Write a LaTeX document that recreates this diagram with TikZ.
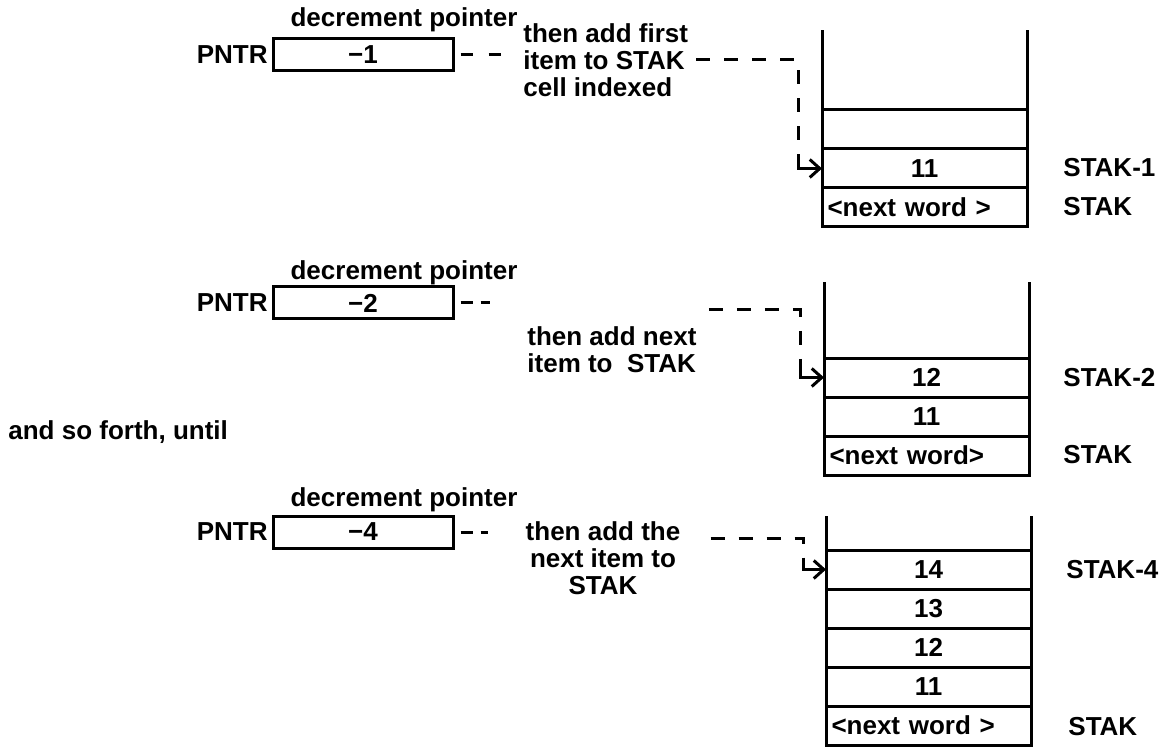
\documentclass[tikz,border=0pt]{standalone}
\usepackage{fontspec}
\setmainfont{Liberation Sans}
\usetikzlibrary{arrows.meta}

\begin{document}
\begin{tikzpicture}[x=0.5pt, y=-0.5pt, font=\bfseries\fontsize{13}{13.5}\selectfont]
    % Define styles
    \tikzstyle{cell} = [rectangle, minimum width=102.5pt, minimum height=19.5pt, draw=black, line width=1.5pt, inner sep=0pt, outer sep=0pt]
    \tikzstyle{wordcell} = [cell, text width=97pt, align=left]
    \tikzstyle{pntrbox} = [rectangle, minimum width=90pt, minimum height=16pt, draw=black, line width=1.5pt, inner sep=0pt]
    \tikzstyle{lbl} = [inner sep=0pt]
    \tikzstyle{note} = [inner sep=0pt, align=left]
    \tikzstyle{wall} = [line width=1.5pt]
    \tikzstyle{shortdash} = [line width=1.5pt, dash pattern=on 6pt off 4pt, shorten <=3pt]
    \tikzstyle{dashline} = [line width=1.5pt, dash pattern=on 7pt off 7pt]
    \tikzstyle{pointer} = [line width=1.5pt, -{Straight Barb[length=5pt, width=9pt]}]

    \useasboundingbox (0,0) rectangle (1176,748);

    % First push
    \node[lbl] (dec1) at (404, 20) {decrement pointer};
    \node[lbl, anchor=east] (pntr1) at (268, 55) {PNTR};
    \node[pntrbox] (box1) at (363, 55) {−1};
    \node[note, anchor=west] (note1) at (523, 60) {then add first\\item to STAK\\cell indexed};

    \node[cell] (s1e) at (924.5, 129.5) {};
    \node[cell] (s1a) at (924.5, 168.5) {11};
    \node[wordcell] (s1w) at (924.5, 207.5) {<next word >};
    \draw[wall] (s1e.north west) -- ++(0,-80);
    \draw[wall] (s1e.north east) -- ++(0,-80);
    \node[lbl, anchor=west] (k1a) at (1063, 168) {STAK-1};
    \node[lbl, anchor=west] (k1w) at (1063, 207) {STAK};

    \coordinate (bend1) at (798, 60);
    \coordinate (drop1) at (798, 160);
    \draw[shortdash, dash pattern=on 6pt off 8pt, shorten >=10.5pt] (box1) -- (note1.west |- box1);
    \draw[dashline] ([xshift=4pt]note1.east) -- (bend1) -- (drop1);
    \draw[pointer] (drop1) |- (s1a.west);

    % Second push
    \node[lbl] (dec2) at (404, 273) {decrement pointer};
    \node[lbl, anchor=east] (pntr2) at (268, 303) {PNTR};
    \node[pntrbox] (box2) at (363, 303) {−2};
    \node[note, anchor=west] (note2) at (527, 350) {then add next\\item to\ \ STAK};

    \node[cell] (s2a) at (926.5, 377.5) {12};
    \node[cell] (s2b) at (926.5, 416.5) {11};
    \node[wordcell] (s2w) at (926.5, 455.5) {<next word>};
    \draw[wall] (s2a.north west) -- ++(0,-76);
    \draw[wall] (s2a.north east) -- ++(0,-76);
    \node[lbl, anchor=west] (k2a) at (1063, 378) {STAK-2};
    \node[lbl, anchor=west] (k2w) at (1063, 455) {STAK};

    \coordinate (bend2) at (800, 310);
    \coordinate (drop2) at (800, 370);
    \draw[shortdash, shorten >=18.5pt] (box2) -- (note2.west |- box2);
    \draw[dashline] ([xshift=6pt]note2.east |- bend2) -- (bend2) -- (drop2);
    \draw[pointer] (drop2) |- (s2a.west);

    \node[lbl, anchor=west] (etc) at (8, 432) {and so forth, until};

    % Fourth push
    \node[lbl] (dec3) at (404, 500) {decrement pointer};
    \node[lbl, anchor=east] (pntr3) at (268, 532) {PNTR};
    \node[pntrbox] (box3) at (363, 532) {−4};
    \node[note, align=center] (note3) at (603, 558) {then add the\\next item to\\STAK};

    \node[cell] (s3a) at (928.5, 569.5) {14};
    \node[cell] (s3b) at (928.5, 608.5) {13};
    \node[cell] (s3c) at (928.5, 647.5) {12};
    \node[cell] (s3d) at (928.5, 686.5) {11};
    \node[wordcell] (s3w) at (928.5, 725.5) {<next word >};
    \draw[wall] (s3a.north west) -- ++(0,-34);
    \draw[wall] (s3a.north east) -- ++(0,-34);
    \node[lbl, anchor=west] (k3a) at (1066, 570) {STAK-4};
    \node[lbl, anchor=west] (k3w) at (1068, 727) {STAK};

    \coordinate (bend3) at (803, 538);
    \coordinate (drop3) at (803, 562);
    \draw[shortdash, shorten >=18.5pt] (box3) -- (note3.west |- box3);
    \draw[dashline] ([xshift=15pt]note3.east |- bend3) -- (bend3) -- (drop3);
    \draw[pointer] (drop3) |- (s3a.west);

\end{tikzpicture}
\end{document}
